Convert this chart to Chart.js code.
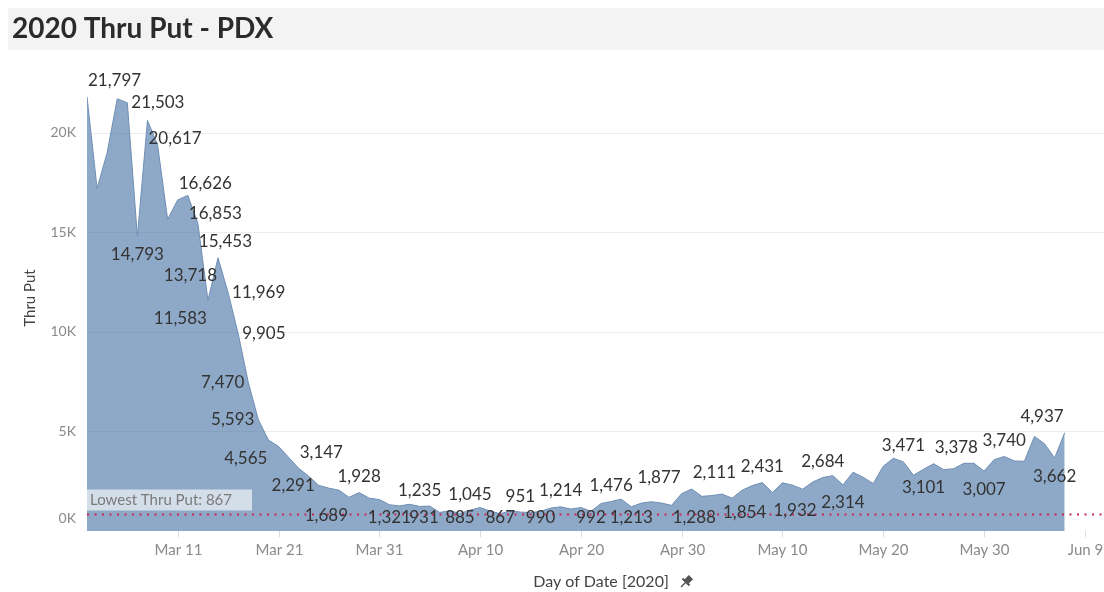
<!DOCTYPE html>
<html>
<head>
<meta charset="utf-8">
<script src="https://cdn.jsdelivr.net/npm/chart.js@4.4.1/dist/chart.umd.min.js"></script>
<style>
  html, body { margin: 0; padding: 0; background: #fff; }
  #wrap { position: relative; width: 1104px; height: 592px; }
</style>
</head>
<body>
<div id="wrap"><canvas id="chartThruPut" width="1104" height="592"></canvas></div>
<script>
// daily thru put at PDX, one value per day from Mar 2, 2020
const firstDay = new Date(2020, 2, 2);
const thruPut = [
  21797, 17200, 19000, 21700, 21503, 14793, 20617, 19400, 15650, 16626,
  16853, 15453, 11583, 13718, 11969, 9905, 7470, 5593, 4565, 4250,
  3700, 3147, 2750, 2291, 2150, 2050, 1689, 1928, 1650, 1580,
  1321, 1260, 1340, 1235, 1250, 931, 1020, 885, 1045, 1180,
  1000, 867, 1010, 951, 920, 990, 1150, 1214, 1100, 1180,
  992, 1380, 1476, 1600, 1213, 1400, 1470, 1400, 1288, 1877,
  2111, 1740, 1780, 1854, 1650, 2050, 2280, 2431, 1932, 2420,
  2300, 2100, 2460, 2684, 2780, 2314, 2950, 2700, 2380, 3250,
  3650, 3471, 2800, 3101, 3378, 3080, 3130, 3400, 3400, 3007,
  3580, 3740, 3520, 3500, 4750, 4380, 3662, 4937
];

const xTickLabels = ['Mar 11', 'Mar 21', 'Mar 31', 'Apr 10', 'Apr 20', 'Apr 30', 'May 10', 'May 20', 'May 30', 'Jun 9'];
const yTickValues = [0, 5000, 10000, 15000, 20000];
const yTickLabels = ['0K', '5K', '10K', '15K', '20K'];

// which days get a value label, and on which side of the point it sits
const labelSpots = [
  [0, 'tr'], [4, 'r'], [5, 'b'], [6, 'br'], [9, 'tr'], [10, 'br'], [11, 'br'],
  [12, 'bl'], [13, 'bl'], [14, 'r'], [15, 'r'], [16, 'l'], [17, 'l'], [18, 'bl'],
  [21, 'tr'], [23, 'l'], [26, 'bl'], [27, 't'], [30, 'b'], [33, 't'], [35, 'bl'],
  [37, 'b'], [38, 't'], [41, 'b'], [43, 't'], [45, 'b'], [47, 't'], [50, 'b'],
  [52, 't'], [54, 'b'], [58, 'br'], [59, 'tl'], [60, 'tr'], [63, 'br'], [67, 't'],
  [68, 'br'], [73, 't'], [75, 'b'], [81, 't'], [83, 'b'], [84, 'tr'], [89, 'b'],
  [91, 't'], [96, 'b'], [97, 'tl']
];

const MONTHS = ['Jan', 'Feb', 'Mar', 'Apr', 'May', 'Jun', 'Jul', 'Aug', 'Sep', 'Oct', 'Nov', 'Dec'];
function dayOffset(label) {
  const parts = label.split(' ');
  const d = new Date(2020, MONTHS.indexOf(parts[0]), parseInt(parts[1], 10));
  return Math.round((d - firstDay) / 86400000);
}

const lowest = Math.min(...thruPut);
const fmt = (v) => v.toLocaleString('en-US');

const FONT = "'Lato', 'Noto Sans', sans-serif";

const decorations = {
  id: 'decorations',
  beforeDraw(chart) {
    const c = chart.ctx;
    c.save();
    // title band
    c.fillStyle = '#f3f3f3';
    c.fillRect(8, 8, 1096, 42);
    c.fillStyle = '#2b2b2b';
    c.font = 'bold 28px ' + FONT;
    c.textBaseline = 'middle';
    c.textAlign = 'left';
    c.fillText('2020 Thru Put - PDX', 12, 29);
    c.restore();
  },
  beforeDatasetsDraw(chart) {
    const c = chart.ctx;
    const area = chart.chartArea;
    const ys = chart.scales.y;
    const xs = chart.scales.x;
    c.save();
    // horizontal grid
    c.strokeStyle = '#ececec';
    c.lineWidth = 1;
    yTickValues.forEach((v) => {
      if (v === 0) return;
      const y = Math.round(ys.getPixelForValue(v)) + 0.5;
      c.beginPath();
      c.moveTo(area.left, y);
      c.lineTo(area.right, y);
      c.stroke();
    });
    // y tick labels
    c.fillStyle = '#8a8a8a';
    c.font = '14px ' + FONT;
    c.textAlign = 'right';
    c.textBaseline = 'middle';
    yTickValues.forEach((v, i) => {
      const y = Math.min(ys.getPixelForValue(v), area.bottom - 13);
      c.fillText(yTickLabels[i], 76, y);
    });
    // y title
    c.save();
    c.translate(30, 298);
    c.rotate(-Math.PI / 2);
    c.fillStyle = '#444';
    c.textAlign = 'center';
    c.font = '15px ' + FONT;
    c.fillText('Thru Put', 0, 0);
    c.restore();
    // date axis ticks and labels
    c.strokeStyle = '#dcdcdc';
    c.fillStyle = '#8a8a8a';
    c.font = '15px ' + FONT;
    c.textAlign = 'center';
    c.textBaseline = 'middle';
    xTickLabels.forEach((lab) => {
      const x = Math.round(xs.getPixelForValue(dayOffset(lab))) + 0.5;
      c.beginPath();
      c.moveTo(x, area.bottom);
      c.lineTo(x, area.bottom + 6);
      c.stroke();
      c.fillText(lab, x, 550);
    });
    // x title with pin
    c.fillStyle = '#444';
    c.font = '16px ' + FONT;
    c.fillText('Day of Date [2020]', 601, 582);
    c.save();
    c.translate(686, 582);
    c.rotate(Math.PI / 4);
    c.fillStyle = '#555';
    c.fillRect(-3, -7, 6, 7);
    c.fillRect(-5, -1, 10, 2);
    c.fillRect(-0.7, 0, 1.4, 7);
    c.restore();
    c.restore();
  },
  afterDatasetsDraw(chart) {
    const c = chart.ctx;
    const area = chart.chartArea;
    const ys = chart.scales.y;
    const meta = chart.getDatasetMeta(0);
    c.save();
    // reference line at the lowest day
    const ly = Math.round(ys.getPixelForValue(lowest)) + 0.5;
    c.strokeStyle = 'rgb(204,38,84)';
    c.lineWidth = 2;
    c.setLineDash([2, 5.5]);
    c.beginPath();
    c.moveTo(area.left, ly);
    c.lineTo(area.right, ly);
    c.stroke();
    c.setLineDash([]);
    // reference line caption
    c.fillStyle = 'rgba(255,255,255,0.62)';
    c.fillRect(area.left, ly - 25, 165, 21);
    c.fillStyle = '#7a7a7a';
    c.font = '15px ' + FONT;
    c.textAlign = 'left';
    c.textBaseline = 'middle';
    c.fillText('Lowest Thru Put: ' + fmt(lowest), area.left + 3, ly - 14);

    // value labels
    c.fillStyle = '#333';
    c.font = '17px ' + FONT;
    labelSpots.forEach(([i, pos]) => {
      const pt = meta.data[i];
      const text = fmt(thruPut[i]);
      const w = c.measureText(text).width;
      let cx = pt.x, cy = pt.y;
      if (pos === 't') { cy = pt.y - 16; }
      else if (pos === 'b') { cy = pt.y + 18; }
      else if (pos === 'tr') { cx = pt.x + 1 + w / 2; cy = pt.y - 16; }
      else if (pos === 'tl') { cx = pt.x - 1 - w / 2; cy = pt.y - 16; }
      else if (pos === 'br') { cx = pt.x + 1 + w / 2; cy = pt.y + 18; }
      else if (pos === 'bl') { cx = pt.x - 1 - w / 2; cy = pt.y + 18; }
      else if (pos === 'r') { cx = pt.x + 4 + w / 2; }
      else if (pos === 'l') { cx = pt.x - 4 - w / 2; }
      cy = Math.min(cy, area.bottom - 13);
      c.textAlign = 'center';
      c.fillText(text, cx, cy);
    });
    c.restore();
  }
};

new Chart(document.getElementById('chartThruPut'), {
  type: 'line',
  data: {
    datasets: [{
      label: 'Thru Put',
      data: thruPut.map((v, i) => ({ x: i, y: v })),
      fill: 'origin',
      backgroundColor: 'rgba(78,121,167,0.64)',
      borderColor: '#6e8eb5',
      borderWidth: 1,
      pointRadius: 0,
      tension: 0
    }]
  },
  options: {
    responsive: false,
    animation: false,
    events: [],
    layout: { padding: { left: 87, right: 0, top: 65, bottom: 61 } },
    plugins: { legend: { display: false }, tooltip: { enabled: false } },
    scales: {
      x: { type: 'linear', min: 0, max: 100.9, display: false },
      y: { min: 0, max: 23400, display: false }
    }
  },
  plugins: [decorations]
});
</script>
</body>
</html>
